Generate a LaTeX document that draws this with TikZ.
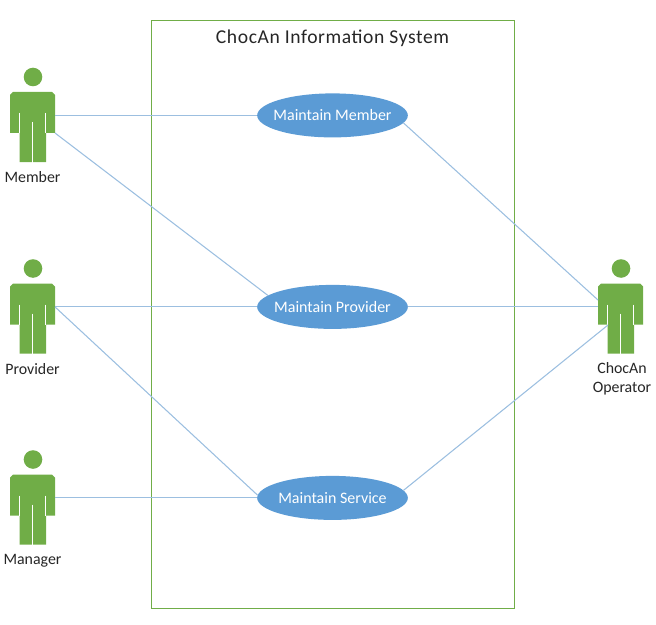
\documentclass[tikz,border=0pt]{standalone}
\usepackage{fontspec}
\setmainfont{Carlito}
\usetikzlibrary{shapes.geometric}
\definecolor{agreen}{HTML}{70AD47}
\definecolor{ablue}{HTML}{5B9BD5}
\definecolor{alink}{HTML}{9CBFE0}
\tikzset{
  x=0.75pt,y=-0.75pt,
  usecase/.style={ellipse,fill=ablue,draw=none,minimum width=113pt,minimum height=33pt,inner sep=0pt,outer sep=0pt,text=white,font=\fontsize{12pt}{14pt}\selectfont},
  actorlabel/.style={align=center,inner sep=0pt,font=\fontsize{11.9pt}{14.25pt}\selectfont,text=black!85},
  link/.style={draw=alink,line width=0.8pt},
  sysbox/.style={draw=agreen,line width=0.75pt,fill=none},
  pics/actor/.style={code={
    \fill[agreen] (33,77) circle[radius=9.3];
    \fill[agreen] (10,133) -- (10,95) -- (13,92) -- (52,92) -- (55,95) -- (55,133) -- (46,133) -- (46,162) -- (19.5,162) -- (19.5,133) -- cycle;
    \draw[white,line width=0.7pt] (19.5,113) -- (19.5,133.5);
    \draw[white,line width=0.7pt] (45.5,113) -- (45.5,133.5);
    \draw[white,line width=0.7pt] (32.7,122) -- (32.7,162.5);
    \coordinate (-arm) at (55,115.4);
    \coordinate (-hand) at (55,133);
  }}
}
\begin{document}
\begin{tikzpicture}
\useasboundingbox (0,0) rectangle (656,624);
\node[inner sep=0pt,font=\fontsize{14.7pt}{17pt}\selectfont,text=black!85] (title) at (332.5,38.5) {\addfontfeatures{LetterSpace=3}ChocAn Information System};
\draw[sysbox] (151.5,20.5) rectangle (514.5,608.5);

\node[usecase] (um) at (332.5,115.4) {\makebox[0pt][c]{Maintain Member}};
\node[usecase] (up) at (332.5,306.9) {\makebox[0pt][c]{Maintain Provider}};
\node[usecase] (us) at (332.5,497.9) {\makebox[0pt][c]{Maintain Service}};

\pic (member) at (0,0) {actor};
\pic (provider) at (0,191.5) {actor};
\pic (manager) at (0,382.5) {actor};
\pic (operator) at (588,191.5) {actor};

\node[actorlabel] (lm) at (32.5,177.5) {Member};
\node[actorlabel] (lp) at (32.5,369) {Provider};
\node[actorlabel] (lg) at (32.5,560.5) {Manager};
\node[actorlabel] (lo) at (622,379) {ChocAn\\Operator};

\coordinate (opa) at (598,300);
\coordinate (opb) at (598,306.9);
\coordinate (opc) at (608,325);

\draw[link] (member-arm) -- (um.west);
\draw[link] (member-hand) -- (up.170);
\draw[link] (provider-arm) -- (up.west);
\draw[link] (provider-arm) -- (us.178);
\draw[link] (manager-arm) -- (us.west);
\draw[link] (um.-6) -- (opa);
\draw[link] (up.east) -- (opb);
\draw[link] (us.6) -- (opc);
\end{tikzpicture}
\end{document}
